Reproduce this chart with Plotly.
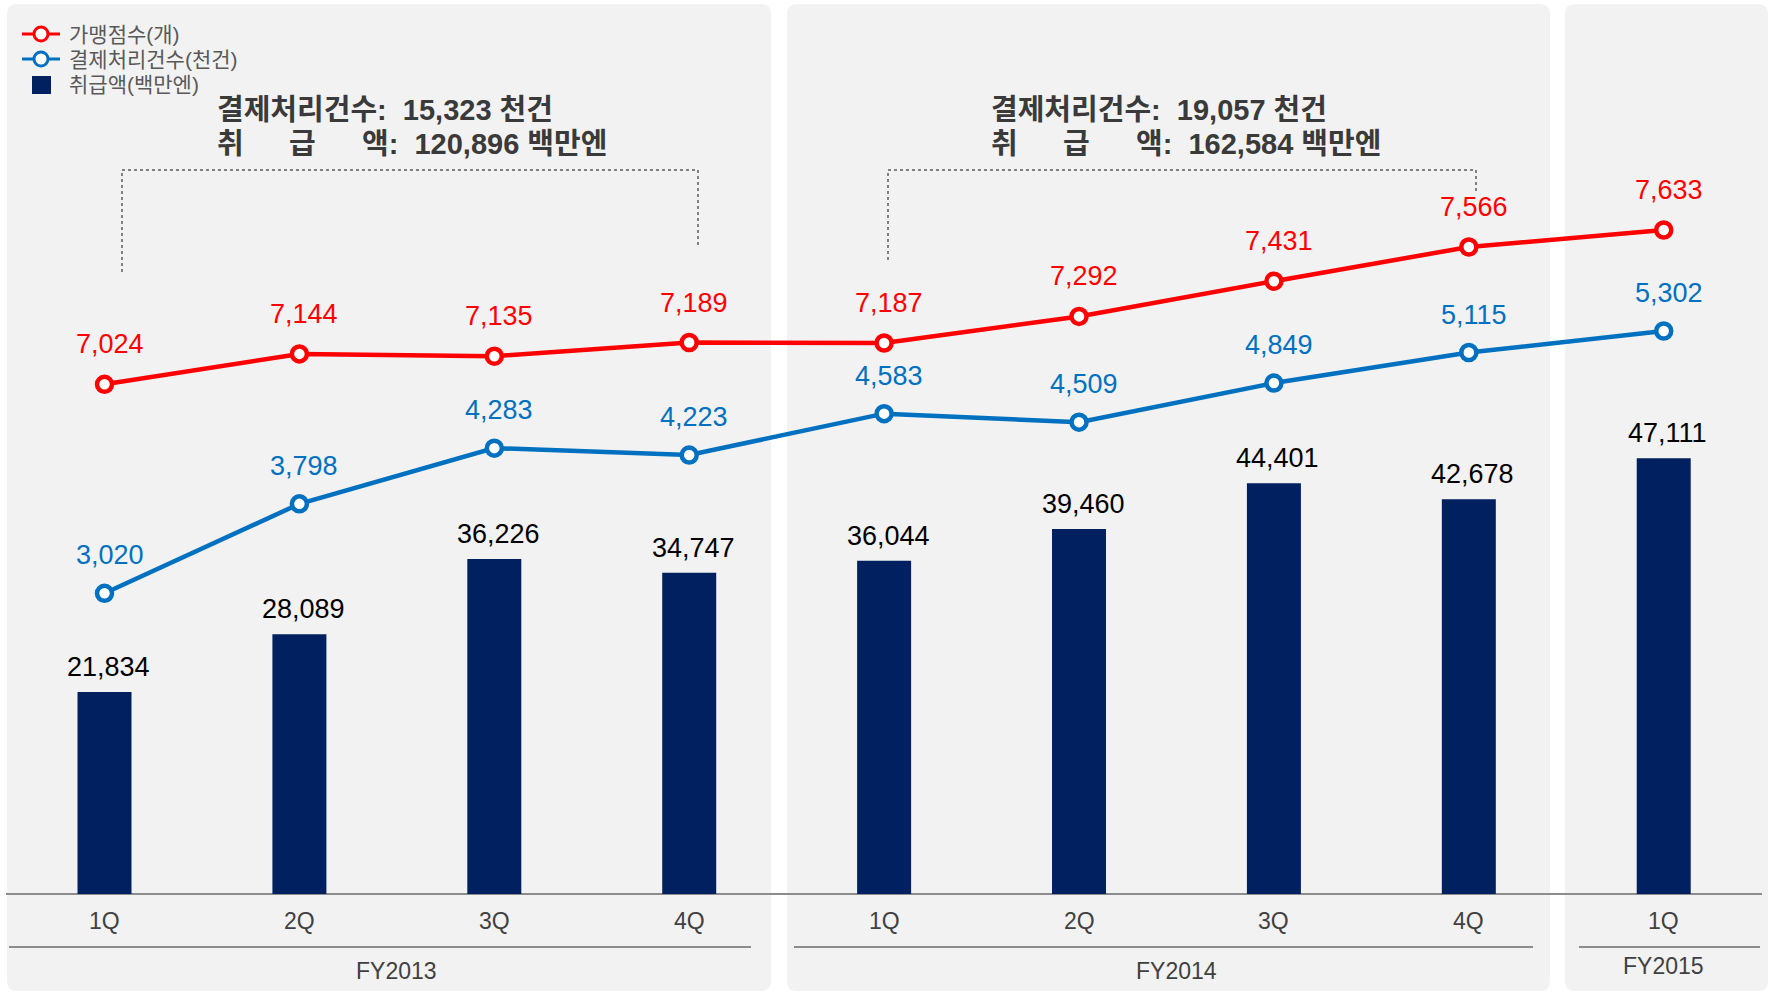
import plotly.graph_objects as go

# ---- data ----
quarters = ["1Q", "2Q", "3Q", "4Q", "1Q", "2Q", "3Q", "4Q", "1Q"]
fiscal_years = ["FY2013", "FY2014", "FY2015"]
quarters_per_year = [4, 4, 1]
stores = [7024, 7144, 7135, 7189, 7187, 7292, 7431, 7566, 7633]            # 가맹점수(개)
transactions = [3020, 3798, 4283, 4223, 4583, 4509, 4849, 5115, 5302]      # 결제처리건수(천건)
volume = [21834, 28089, 36226, 34747, 36044, 39460, 44401, 42678, 47111]   # 취급액(백만엔)
year_tx_total = [15323, 19057]        # 연간 결제처리건수(천건)
year_amount_total = [120896, 162584]  # 연간 취급액(백만엔)

W, H = 1777, 994
RED, BLUE, NAVY = "#ff0000", "#0070c0", "#002060"
TXT = "#404040"
NUM_FONT = "Liberation Sans, Arial, sans-serif"
KR_FONT = "Liberation Sans, Noto Sans CJK KR, sans-serif"

xs = list(range(len(quarters)))


def px(x):
    return x / W


def py(y):
    return 1 - y / H


fig = go.Figure()
fig.add_trace(go.Bar(x=xs, y=volume, width=0.277, marker=dict(color=NAVY, line=dict(width=0)),
                     yaxis="y", name="취급액(백만엔)"))
fig.add_trace(go.Scatter(x=xs, y=stores, yaxis="y2", mode="lines+markers", name="가맹점수(개)",
                         line=dict(color=RED, width=4.5),
                         marker=dict(size=15, color="white", line=dict(color=RED, width=4.5))))
fig.add_trace(go.Scatter(x=xs, y=transactions, yaxis="y3", mode="lines+markers", name="결제처리건수(천건)",
                         line=dict(color=BLUE, width=4.5),
                         marker=dict(size=15, color="white", line=dict(color=BLUE, width=4.5))))

ann = []


def label(**kw):
    kw.setdefault("showarrow", False)
    kw.setdefault("yanchor", "middle")
    kw.setdefault("xanchor", "center")
    ann.append(kw)


# value labels
for i, v in enumerate(stores):
    label(x=i, y=v, xref="x", yref="y2", text=f"{v:,}", xshift=5, yshift=40,
          font=dict(size=27, color=RED, family=NUM_FONT))
for i, v in enumerate(transactions):
    label(x=i, y=v, xref="x", yref="y3", text=f"{v:,}", xshift=5, yshift=38,
          font=dict(size=27, color=BLUE, family=NUM_FONT))
for i, v in enumerate(volume):
    label(x=i, y=v, xref="x", yref="y", text=f"{v:,}", xshift=4, yshift=25,
          font=dict(size=27, color="black", family=NUM_FONT))

# quarter labels
for i, q in enumerate(quarters):
    label(x=i, y=py(921), xref="x", yref="paper", text=q,
          font=dict(size=23, color=TXT, family=NUM_FONT))

# fiscal year labels
start = 0
fy_y = [971, 971, 966]
for k, (fy, n) in enumerate(zip(fiscal_years, quarters_per_year)):
    label(x=start + (n - 1) / 2, y=py(fy_y[k]), xref="x", yref="paper", text=fy,
          font=dict(size=23, color=TXT, family=NUM_FONT))
    start += n

# yearly summary text
summary_left = [215, 989]
FS = 29
sfont = dict(size=FS, color="#3a3a3a", family=KR_FONT, weight="bold")
for k in range(2):
    x0 = summary_left[k]
    label(x=px(x0), y=py(110), xref="paper", yref="paper", xanchor="left",
          text=f"결제처리건수:  {year_tx_total[k]:,} 천건", font=sfont)
    label(x=px(x0), y=py(144), xref="paper", yref="paper", xanchor="left", text="취", font=sfont)
    label(x=px(x0 + 3 * FS), y=py(144), xref="paper", yref="paper", xanchor="center", text="급", font=sfont)
    label(x=px(x0 + 5 * FS), y=py(144), xref="paper", yref="paper", xanchor="left",
          text=f"액:  {year_amount_total[k]:,} 백만엔", font=sfont)

# legend text
legend_items = [("가맹점수(개)", 34), ("결제처리건수(천건)", 59), ("취급액(백만엔)", 84)]
for text, yy in legend_items:
    label(x=px(67), y=py(yy), xref="paper", yref="paper", xanchor="left", text=text,
          font=dict(size=21, color="#595959", family=KR_FONT))


def rounded_rect(x0, y0, x1, y1, r):
    rx, ry = r / W, r / H
    X0, X1, Y0, Y1 = px(x0), px(x1), py(y0), py(y1)
    return (f"M {X0+rx},{Y0} L {X1-rx},{Y0} Q {X1},{Y0} {X1},{Y0-ry} "
            f"L {X1},{Y1+ry} Q {X1},{Y1} {X1-rx},{Y1} L {X0+rx},{Y1} "
            f"Q {X0},{Y1} {X0},{Y1+ry} L {X0},{Y0-ry} Q {X0},{Y0} {X0+rx},{Y0} Z")


shapes = []
# panel backgrounds
for x0, x1 in [(7, 771), (787, 1550), (1565, 1768)]:
    shapes.append(dict(type="path", path=rounded_rect(x0, 4, x1, 991, 10), xref="paper", yref="paper",
                       fillcolor="#f2f2f2", line=dict(width=0), layer="below"))
# baseline
shapes.append(dict(type="line", xref="paper", yref="paper", x0=px(6), x1=px(1762), y0=py(894), y1=py(894),
                   line=dict(color="#8c8c8c", width=2), layer="below"))
# year separators
for x0, x1 in [(9, 751), (794, 1533), (1579, 1760)]:
    shapes.append(dict(type="line", xref="paper", yref="paper", x0=px(x0), x1=px(x1), y0=py(947), y1=py(947),
                       line=dict(color="#8c8c8c", width=2)))
# dotted brackets over each full year
for xl, xr, yl, yr in [(122, 698, 272, 247), (888, 1476, 260, 193)]:
    shapes.append(dict(type="path", xref="paper", yref="paper",
                       path=f"M {px(xl)},{py(yl)} L {px(xl)},{py(170)} L {px(xr)},{py(170)} L {px(xr)},{py(yr)}",
                       line=dict(color="#808080", width=2, dash="dot")))
# legend glyphs
for color, yy in [(RED, 34), (BLUE, 59)]:
    shapes.append(dict(type="line", xref="paper", yref="paper", x0=px(22), x1=px(60), y0=py(yy), y1=py(yy),
                       line=dict(color=color, width=3)))
    shapes.append(dict(type="circle", xref="paper", yref="paper", x0=px(34), x1=px(48),
                       y0=py(yy + 7), y1=py(yy - 7), fillcolor="white", line=dict(color=color, width=3)))
shapes.append(dict(type="rect", xref="paper", yref="paper", x0=px(32), x1=px(51), y0=py(94), y1=py(76),
                   fillcolor=NAVY, line=dict(width=0)))

fig.update_layout(
    width=W, height=H, margin=dict(l=0, r=0, t=0, b=0),
    paper_bgcolor="white", plot_bgcolor="rgba(0,0,0,0)",
    showlegend=False,
    xaxis=dict(range=[-0.5362, 8.5812], visible=False),
    yaxis=dict(range=[-10813, 96666], visible=False),
    yaxis2=dict(range=[4617.7, 8540.8], overlaying="y", visible=False),
    yaxis3=dict(range=[-466.2, 8181.8], overlaying="y", visible=False),
    annotations=ann, shapes=shapes,
)

fig.write_html("out.html")
